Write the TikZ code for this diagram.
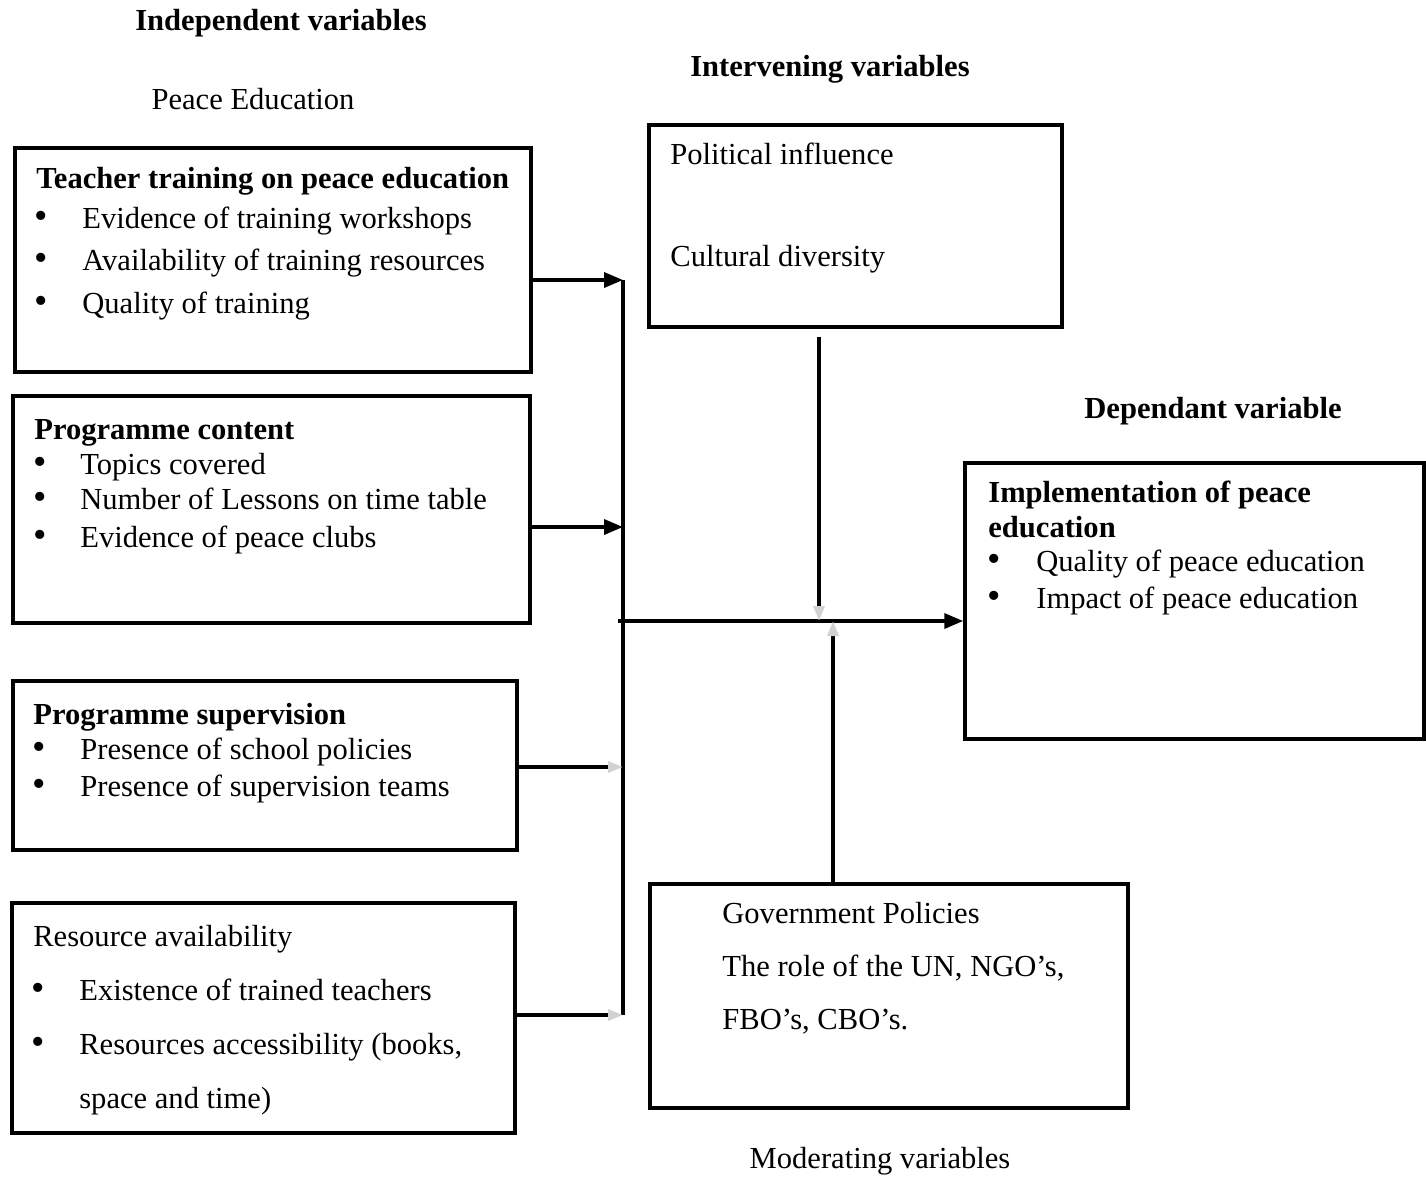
\documentclass[tikz,border=0pt]{standalone}
\usepackage{fontspec}
\setmainfont{Liberation Serif}
\usetikzlibrary{positioning, fit, arrows.meta, calc}
\tikzset{
	varbox/.style={draw, line width=2pt, inner sep=0pt}
}
\tikzset{
	boxtext/.style={anchor=base west, inner sep=0pt, font=\fontsize{17.4}{20}\selectfont}
}
\tikzset{
	headtext/.style={anchor=base, inner sep=0pt, font=\fontsize{17.4}{20}\selectfont\bfseries}
}
\tikzset{
	link/.style={line width=2pt, -{Triangle[length=0.38cm, width=0.3cm]}},
	faintlink/.style={line width=2pt, -{Triangle[length=0.3cm, width=0.22cm, color=gray!35]}}
}
\newcommand{\bul}{\scalebox{1.25}{\textbullet}}

\begin{document}
\begin{tikzpicture}[x=0.02cm, y=-0.02cm]
  \useasboundingbox (0,0) rectangle (1426,1176);
  % headings
  \node[headtext] (hind) at (281,31) {Independent variables};
  \node[headtext, font=\fontsize{17.4}{20}\selectfont] (hpe) at (253,110) {Peace Education};
  \node[headtext] (hint) at (830,77) {Intervening variables};
  \node[headtext] (hdep) at (1213,418) {Dependant variable};
  \node[headtext, font=\fontsize{17.4}{20}\selectfont] (hmod) at (880,1168) {Moderating variables};
  % independent boxes
  \node[varbox, fit={(15,148) (531,372)}] (tt) {};
  \node[varbox, fit={(13,396) (530,623)}] (pc) {};
  \node[varbox, fit={(13,681) (517,850)}] (ps) {};
  \node[varbox, fit={(12,903) (515,1133)}] (ra) {};
  \node[boxtext, font=\fontsize{17.4}{20}\selectfont\bfseries] (tt0) at (36,188) {Teacher training on peace education};
  \node[boxtext] (tt1) at (82,228) {Evidence of training workshops};
  \node[boxtext] (tt2) at (82,270) {Availability of training resources};
  \node[boxtext] (tt3) at (82,313) {Quality of training};
  \node[boxtext, font=\fontsize{17.4}{20}\selectfont\bfseries] (pc0) at (34,439) {Programme content};
  \node[boxtext] (pc1) at (80,474) {Topics covered};
  \node[boxtext] (pc2) at (80,509) {Number of Lessons on time table};
  \node[boxtext] (pc3) at (80,547) {Evidence of peace clubs};
  \node[boxtext, font=\fontsize{17.4}{20}\selectfont\bfseries] (ps0) at (33,724) {Programme supervision};
  \node[boxtext] (ps1) at (80,759) {Presence of school policies};
  \node[boxtext] (ps2) at (80,796) {Presence of supervision teams};
  \node[boxtext] (ra0) at (33,946) {Resource availability};
  \node[boxtext] (ra1) at (79,1000) {Existence of trained teachers};
  \node[boxtext] (ra2) at (79,1054) {Resources accessibility (books,};
  \node[boxtext] (ra3) at (79,1108) {space and time)};
  \foreach \n/\x/\y in {t1/34/228, t2/34/270, t3/34/313, p1/33/474, p2/33/509, p3/33/547,
                        s1/32/759, s2/32/796, r1/31/1000, r2/31/1054} {
    \node[boxtext] (b\n) at (\x,\y) {\bul};
  }
  % intervening
  \node[varbox, fit={(649,125) (1062,327)}] (iv) {};
  \node[boxtext] (iv1) at (670,164) {Political influence};
  \node[boxtext] (iv2) at (670,266) {Cultural diversity};
  % dependant
  \node[varbox, fit={(965,463) (1424,739)}] (dv) {};
  \node[boxtext, font=\fontsize{17.4}{20}\selectfont\bfseries] (dv0) at (988,502) {Implementation of peace};
  \node[boxtext, font=\fontsize{17.4}{20}\selectfont\bfseries] (dv0b) at (988,537) {education};
  \node[boxtext] (bd1) at (987,571) {\bul};
  \node[boxtext] (bd2) at (987,608) {\bul};
  \node[boxtext] (dv1) at (1036,571) {Quality of peace education};
  \node[boxtext] (dv2) at (1036,608) {Impact of peace education};
  % moderating
  \node[varbox, fit={(650,884) (1128,1108)}] (mv) {};
  \node[boxtext] (mv1) at (722,923) {Government Policies};
  \node[boxtext] (mv2) at (722,976) {The role of the UN, NGO’s,};
  \node[boxtext] (mv3) at (722,1029) {FBO’s, CBO’s.};
  % bus and links
  \coordinate (bus1) at (623,280);
  \coordinate (bus2) at (623,527);
  \coordinate (bus3) at (623,767);
  \coordinate (bus4) at (623,1015);
  \coordinate (jin) at (618,621);
  \coordinate (ivtop) at (819,337);
  \coordinate (mvtop) at (833,884);
  \draw[line width=2pt] (bus1) -- (bus4);
  \draw[link] (tt.east |- bus1) -- (bus1);
  \draw[link] (pc.east |- bus2) -- (bus2);
  \draw[faintlink] (ps.east |- bus3) -- (bus3);
  \draw[faintlink] (ra.east |- bus4) -- (bus4);
  \draw[link] (jin) -- (dv.west |- jin);
  \draw[faintlink] (ivtop) -- (ivtop |- jin);
  \draw[faintlink] (mvtop) -- (mvtop |- jin);
\end{tikzpicture}
\end{document}
